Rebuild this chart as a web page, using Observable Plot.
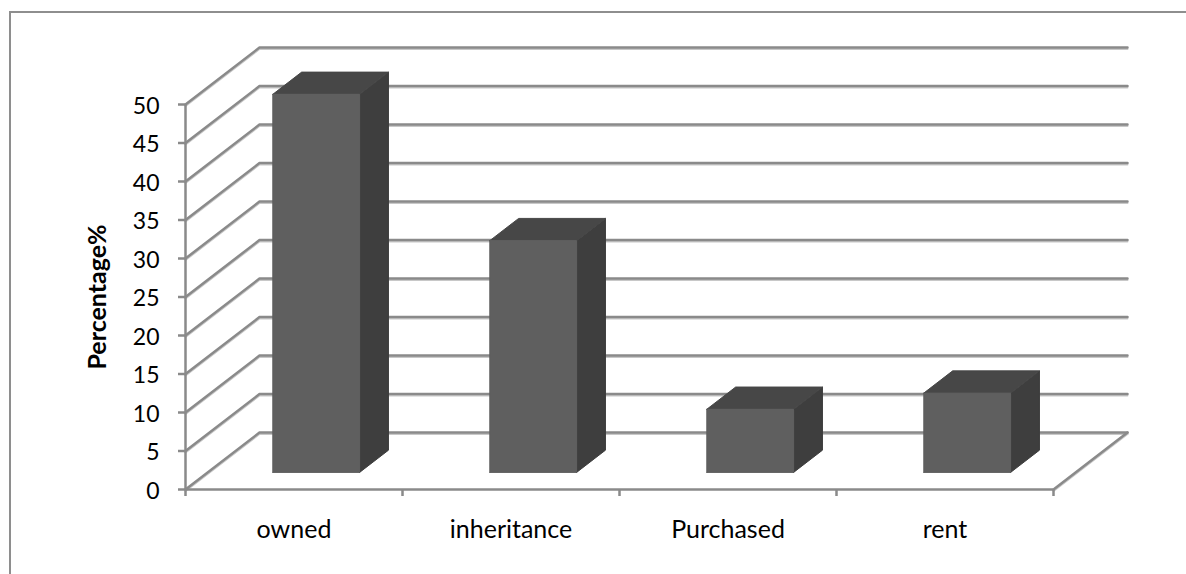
<!DOCTYPE html>
<html>
<head>
<meta charset="utf-8">
<script src="https://cdn.jsdelivr.net/npm/d3@7"></script>
<script src="https://cdn.jsdelivr.net/npm/@observablehq/plot@0.6"></script>
<style>
  html, body { margin: 0; background: #fff; }
  #chart { position: relative; width: 1186px; height: 574px; overflow: hidden; }
  #chart svg { display: block; }
  #outline { position: absolute; left: 9px; top: 11px; right: -4px; bottom: -4px;
             border-left: 2px solid #8e8e8e; border-top: 2px solid #8e8e8e; }
</style>
</head>
<body>
<div id="chart"><div id="outline"></div></div>
<script>
const categories = ["owned", "inheritance", "Purchased", "rent"];
const percentages = [49.1, 30.1, 8.2, 10.3];
const yTicks = [0, 5, 10, 15, 20, 25, 30, 35, 40, 45, 50];
const xBoundaries = [0, 1, 2, 3, 4];

// Oblique projection: a step into the depth of the box moves right and up,
// expressed in category units and percentage units.
const depthX = 0.341;
const depthY = 7.4;
const project = (c, v, d) => ({x: c + d * depthX, y: v + d * depthY});

// Each bar occupies a fixed footprint inside its category slot.
const barStart = 0.3, barWidth = 0.4, depthNear = 0.3, depthFar = 0.69;

// Gridlines wrap from the left wall to the back wall; the floor closes the box.
const gridPoints = yTicks.flatMap((v) => [
  {...project(0, v, 0), v},
  {...project(0, v, 1), v},
  {...project(4, v, 1), v}
]);
const floorEdge = [project(4, 0, 1), project(4, 0, 0)];

function polygon(points, id) {
  return [...points, points[0]].map((p) => ({...p, id}));
}
const faces = (build) => percentages.flatMap((v, i) => polygon(build(i + barStart, i + barStart + barWidth, v), i));

const frontFaces = faces((a, b, v) => [
  project(a, 0, depthNear), project(b, 0, depthNear),
  project(b, v, depthNear), project(a, v, depthNear)
]);
const topFaces = faces((a, b, v) => [
  project(a, v, depthNear), project(b, v, depthNear),
  project(b, v, depthFar), project(a, v, depthFar)
]);
const sideFaces = faces((a, b, v) => [
  project(b, 0, depthNear), project(b, 0, depthFar),
  project(b, v, depthFar), project(b, v, depthNear)
]);

const faceMark = (data, color) => Plot.line(data, {
  x: "x", y: "y", z: "id", fill: color, stroke: color, strokeWidth: 1, curve: "linear"
});

const gridColor = "#8a8a8a";
const fontFamily = "Lato, 'Open Sans', sans-serif";

const chart = Plot.plot({
  width: 1186,
  height: 574,
  marginLeft: 185,
  marginRight: 133,
  marginTop: 104,
  marginBottom: 85,
  style: {fontFamily, background: "transparent", color: "#000"},
  x: {domain: [0, 4], label: null},
  y: {domain: [0, 50], label: null},
  marks: [
    // Soft highlight under each gridline, then the line itself.
    Plot.line(gridPoints, {x: "x", y: "y", z: "v", stroke: "#c8c8c8", strokeWidth: 2, dy: 1.5, curve: "linear"}),
    Plot.line(floorEdge, {x: "x", y: "y", stroke: "#c8c8c8", strokeWidth: 2, dy: 1.5, curve: "linear"}),
    Plot.line(gridPoints, {x: "x", y: "y", z: "v", stroke: gridColor, strokeWidth: 2.5, curve: "linear"}),
    Plot.line(floorEdge, {x: "x", y: "y", stroke: gridColor, strokeWidth: 2.5, curve: "linear"}),
    Plot.ruleY([0], {stroke: gridColor, strokeWidth: 2.5}),
    Plot.ruleX([0], {stroke: gridColor, strokeWidth: 2.5}),

    // Boxes, one face colour per orientation.
    faceMark(sideFaces, "#3e3e3e"),
    faceMark(topFaces, "#474747"),
    faceMark(frontFaces, "#5f5f5f"),

    Plot.axisY({
      ticks: yTicks, tickFormat: () => "", anchor: "left", label: null,
      stroke: gridColor, strokeWidth: 2.5, tickSize: 7
    }),
    Plot.axisY({
      ticks: yTicks, tickFormat: (d) => d, anchor: "left", label: null,
      tickSize: 0, tickPadding: 26, dy: 2, fill: "#000", fontSize: 23
    }),
    Plot.axisX({
      ticks: xBoundaries, tickFormat: () => "", anchor: "bottom", label: null,
      stroke: gridColor, strokeWidth: 2.5, tickSize: 7
    }),
    Plot.axisX({
      ticks: categories.map((_, i) => i + 0.5), tickFormat: (d) => categories[d - 0.5],
      anchor: "bottom", label: null, tickSize: 0, tickPadding: 31,
      fill: "#000", fontSize: 25
    }),
    Plot.text(["Percentage%"], {
      frameAnchor: "left", textAnchor: "middle", dx: -88, rotate: -90,
      fontSize: 25, fontWeight: "bold", fill: "#000"
    })
  ]
});

document.getElementById("chart").prepend(chart);
</script>
</body>
</html>
